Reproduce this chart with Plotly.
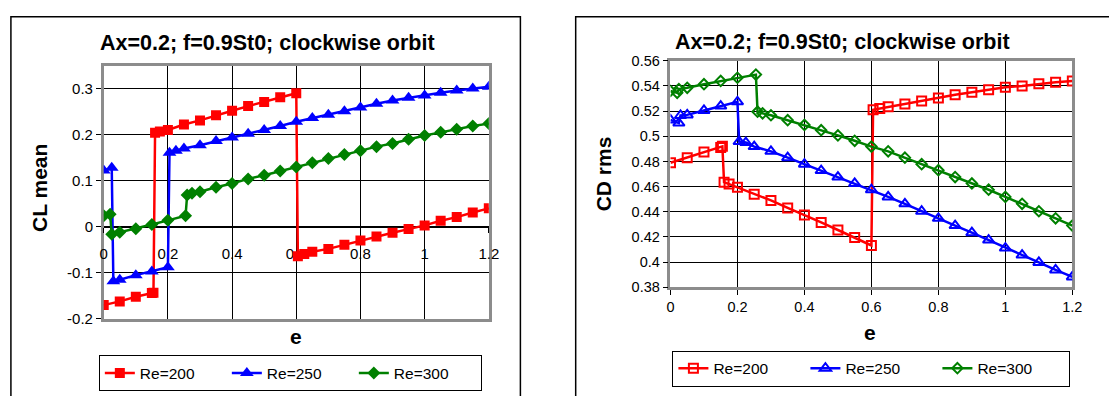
import plotly.graph_objects as go

W, H = 1109, 396

# ---------------- data ----------------
e_200 = [0, 0.05, 0.1, 0.15, 0.155, 0.16, 0.175, 0.2, 0.25, 0.3, 0.35, 0.4, 0.45, 0.5,
         0.55, 0.6, 0.605, 0.625, 0.65, 0.7, 0.75, 0.8, 0.85, 0.9, 0.95, 1.0, 1.05,
         1.1, 1.15, 1.2]
cl_200 = [-0.170, -0.162, -0.152, -0.144, -0.143, 0.204, 0.207, 0.210, 0.222, 0.231,
          0.242, 0.252, 0.262, 0.271, 0.281, 0.290, -0.064, -0.059, -0.054, -0.048,
          -0.039, -0.030, -0.021, -0.013, -0.005, 0.003, 0.013, 0.021, 0.031, 0.040]
cd_200 = [0.479, 0.483, 0.4875, 0.491, 0.492, 0.4635, 0.462, 0.4595, 0.454, 0.449,
          0.443, 0.4375, 0.4315, 0.4255, 0.4195, 0.4132, 0.521, 0.522, 0.5235, 0.5257,
          0.528, 0.5305, 0.533, 0.535, 0.537, 0.539, 0.540, 0.5417, 0.543, 0.544]

e_250 = [0, 0.025, 0.03, 0.05, 0.1, 0.15, 0.2, 0.205, 0.225, 0.25, 0.3, 0.35, 0.4,
         0.45, 0.5, 0.55, 0.6, 0.65, 0.7, 0.75, 0.8, 0.85, 0.9, 0.95, 1.0, 1.05, 1.1,
         1.15, 1.2]
cl_250 = [0.122, 0.128, -0.118, -0.115, -0.105, -0.097, -0.088, 0.161, 0.165, 0.170,
          0.177, 0.186, 0.194, 0.202, 0.210, 0.219, 0.228, 0.236, 0.243, 0.251, 0.259,
          0.267, 0.274, 0.280, 0.285, 0.291, 0.296, 0.300, 0.304]
cd_250 = [0.513, 0.5105, 0.5165, 0.517, 0.5205, 0.524, 0.5274, 0.4958, 0.495, 0.4918,
          0.488, 0.483, 0.4778, 0.4727, 0.4676, 0.4625, 0.4575, 0.4518, 0.4463, 0.4404,
          0.4348, 0.429, 0.4234, 0.4175, 0.4111, 0.4056, 0.3997, 0.3938, 0.3882]

e_300 = [0, 0.02, 0.025, 0.05, 0.1, 0.15, 0.2, 0.255, 0.26, 0.275, 0.3, 0.35, 0.4,
         0.45, 0.5, 0.55, 0.6, 0.65, 0.7, 0.75, 0.8, 0.85, 0.9, 0.95, 1.0, 1.05, 1.1,
         1.15, 1.2]
cl_300 = [0.024, 0.027, -0.016, -0.012, -0.004, 0.005, 0.014, 0.024, 0.069, 0.073,
          0.076, 0.086, 0.094, 0.104, 0.112, 0.121, 0.130, 0.139, 0.148, 0.157, 0.165,
          0.174, 0.181, 0.190, 0.198, 0.205, 0.212, 0.219, 0.224]
cd_300 = [0.536, 0.5345, 0.5375, 0.5385, 0.5414, 0.544, 0.5465, 0.549, 0.5195, 0.5182,
          0.5167, 0.5128, 0.509, 0.5048, 0.5007, 0.4964, 0.4918, 0.488, 0.483, 0.4778,
          0.473, 0.4676, 0.4625, 0.4575, 0.4518, 0.4463, 0.4404, 0.4348, 0.429]

series_names = ["Re=200", "Re=250", "Re=300"]

x_tickvals = [0, 0.2, 0.4, 0.6, 0.8, 1.0, 1.2]
x_ticktext = ["0", "0.2", "0.4", "0.6", "0.8", "1", "1.2"]
cl_tickvals = [-0.2, -0.1, 0, 0.1, 0.2, 0.3]
cl_ticktext = ["-0.2", "-0.1", "0", "0.1", "0.2", "0.3"]
cd_tickvals = [0.38, 0.40, 0.42, 0.44, 0.46, 0.48, 0.50, 0.52, 0.54, 0.56]
cd_ticktext = ["0.38", "0.4", "0.42", "0.44", "0.46", "0.48", "0.5", "0.52", "0.54", "0.56"]

title_text = "Ax=0.2; f=0.9St0; clockwise orbit"

# ---------------- layout helpers ----------------
FONT = "Liberation Sans, Arial, sans-serif"
def px_x(p):
    return p / W
def px_y(p):
    return 1 - p / H

RED, BLUE, GREEN = "#FF0000", "#0000FF", "#008000"
colors = [RED, BLUE, GREEN]
FRAME = "#8c8c8c"

fig = go.Figure()

# left chart (CL mean)
left_sym = ["square", "triangle-up", "diamond"]
left_size = [10, 12, 10]
for name, xs, ys, c, s, sz in zip(series_names, [e_200, e_250, e_300],
                                  [cl_200, cl_250, cl_300], colors, left_sym, left_size):
    fig.add_trace(go.Scatter(x=xs, y=ys, name=name, mode="lines+markers",
                             line=dict(color=c, width=2.5),
                             marker=dict(symbol=s, size=sz, color=c, line=dict(width=0)),
                             xaxis="x", yaxis="y", legend="legend"))
# empty trace so that the axis crossing at CL = 0 (x3) is rendered
fig.add_trace(go.Scatter(x=[], y=[], xaxis="x3", yaxis="y", showlegend=False,
                         hoverinfo="skip"))

# right chart (CD rms)
right_sym = ["square-open", "triangle-up-open", "diamond-open"]
right_size = [9, 10, 8]
for name, xs, ys, c, s, sz in zip(series_names, [e_200, e_250, e_300],
                                  [cd_200, cd_250, cd_300], colors, right_sym, right_size):
    fig.add_trace(go.Scatter(x=xs, y=ys, name=name, mode="lines+markers",
                             line=dict(color=c, width=2.5),
                             marker=dict(symbol=s, size=sz, color=c, line=dict(width=2, color=c)),
                             xaxis="x2", yaxis="y2", legend="legend2"))

# domains
L_x0, L_x1, L_y0, L_y1 = 101, 491, 60, 324
R_x0, R_x1, R_y0, R_y1 = 675, 1082, 55, 291
cl_range = [-0.2, 0.35]
cd_range = [0.38, 0.56]
ly_dom = [px_y(L_y1), px_y(L_y0)]
zero_pos = ly_dom[0] + (0 - cl_range[0]) / (cl_range[1] - cl_range[0]) * (ly_dom[1] - ly_dom[0])

tickfont_l = dict(family=FONT, size=15, color="black")
tickfont_r = dict(family=FONT, size=14.5, color="black")

fig.update_layout(
    width=W, height=H, margin=dict(l=0, r=0, t=0, b=0),
    paper_bgcolor="white", plot_bgcolor="white",
    showlegend=True,
    # left: frame + vertical grid
    xaxis=dict(domain=[px_x(L_x0), px_x(L_x1)], range=[0, 1.2], anchor="y",
               tickvals=x_tickvals, showticklabels=False, ticks="",
               showgrid=True, gridcolor="black", gridwidth=1, zeroline=False,
               showline=True, mirror=True, linecolor=FRAME, linewidth=2.5,
               layer="below traces"),
    # left: axis crossing at CL = 0 with its labels
    xaxis3=dict(overlaying="x", range=[0, 1.2], anchor="free", position=zero_pos,
                tickvals=x_tickvals, ticktext=x_ticktext, showgrid=False, zeroline=False,
                showline=True, linecolor="black", linewidth=1, ticks="outside",
                ticklen=5, tickcolor="black", tickfont=tickfont_l, layer="below traces",
                ticklabelstandoff=8),
    yaxis=dict(domain=ly_dom, range=cl_range, tickvals=cl_tickvals, ticktext=cl_ticktext,
               showgrid=True, gridcolor="black", gridwidth=1, zeroline=False,
               showline=True, mirror=True, linecolor=FRAME, linewidth=2.5,
               ticks="outside", ticklen=5, tickcolor="black",
               tickfont=tickfont_l, anchor="x", layer="below traces"),
    xaxis2=dict(domain=[px_x(R_x0), px_x(R_x1)], range=[0, 1.2], anchor="y2",
                tickvals=x_tickvals, ticktext=x_ticktext,
                showgrid=True, gridcolor="black", gridwidth=1, zeroline=False,
                showline=True, mirror=True, linecolor=FRAME, linewidth=2.5,
                ticks="outside", ticklen=5, tickcolor="black",
                tickfont=tickfont_r, layer="below traces"),
    yaxis2=dict(domain=[px_y(R_y1), px_y(R_y0)], range=cd_range, anchor="x2",
                tickvals=cd_tickvals, ticktext=cd_ticktext,
                showgrid=True, gridcolor="black", gridwidth=1, zeroline=False,
                showline=True, mirror=True, linecolor=FRAME, linewidth=2.5,
                ticks="outside", ticklen=5, tickcolor="black",
                tickfont=tickfont_r, layer="below traces"),
    legend=dict(orientation="h", x=px_x(290), xanchor="center", y=px_y(362), yanchor="top",
                bordercolor="black", borderwidth=1, bgcolor="white",
                font=dict(family=FONT, size=15.5, color="black"),
                entrywidth=82, entrywidthmode="pixels"),
    legend2=dict(orientation="h", x=px_x(878.5), xanchor="center", y=px_y(357), yanchor="top",
                 bordercolor="black", borderwidth=1, bgcolor="white",
                 font=dict(family=FONT, size=15.5, color="black"),
                 entrywidth=87, entrywidthmode="pixels"),
)

shapes = []
# outer chart borders
shapes.append(dict(type="rect", xref="paper", yref="paper", x0=px_x(7), x1=px_x(523),
                   y0=-0.1, y1=px_y(9), line=dict(color="black", width=1.5), layer="below"))
shapes.append(dict(type="rect", xref="paper", yref="paper", x0=px_x(579), x1=1.1,
                   y0=-0.1, y1=px_y(9), line=dict(color="black", width=1.5), layer="below"))
fig.update_layout(shapes=shapes)

ann = []
tfont = dict(family=FONT, size=21.5, color="black")
afont = dict(family=FONT, size=21, color="black")
ann.append(dict(text="<b>" + title_text + "</b>", x=px_x(267), y=px_y(36), xref="paper",
                yref="paper", showarrow=False, font=tfont, xanchor="center", yanchor="middle"))
ann.append(dict(text="<b>" + title_text + "</b>", x=px_x(849), y=px_y(35), xref="paper",
                yref="paper", showarrow=False, font=tfont, xanchor="center", yanchor="middle"))
ann.append(dict(text="<b>e</b>", x=px_x(296), y=px_y(342), xref="paper", yref="paper",
                showarrow=False, font=afont, xanchor="center", yanchor="middle"))
ann.append(dict(text="<b>e</b>", x=px_x(877), y=px_y(338), xref="paper", yref="paper",
                showarrow=False, font=afont, xanchor="center", yanchor="middle"))
ann.append(dict(text="<b>CL mean</b>", x=px_x(36), y=px_y(188), xref="paper", yref="paper",
                showarrow=False, font=afont, textangle=-90, xanchor="center", yanchor="middle"))
ann.append(dict(text="<b>CD rms</b>", x=px_x(607), y=px_y(173), xref="paper", yref="paper",
                showarrow=False, font=afont, textangle=-90, xanchor="center", yanchor="middle"))
fig.update_layout(annotations=ann)

fig.write_html("out.html", config={"displayModeBar": False},
               post_script="document.body.style.margin = '0px';")
